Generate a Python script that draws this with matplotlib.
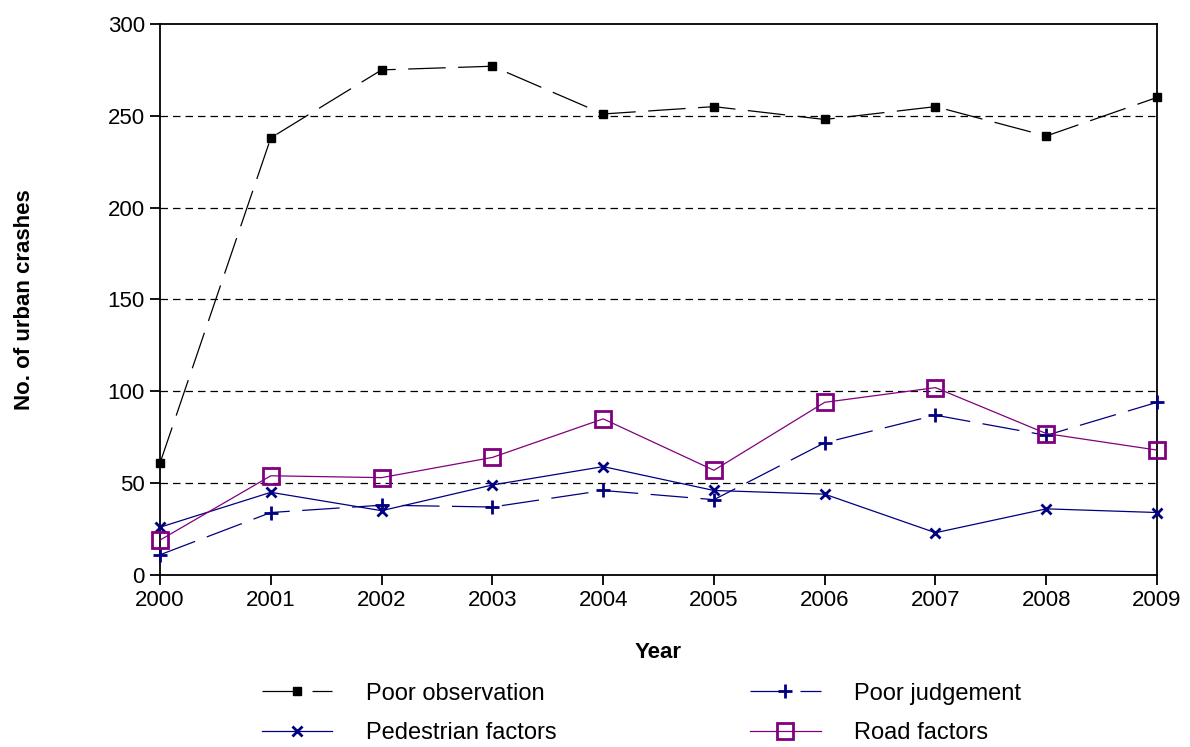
import numpy as np
import matplotlib
matplotlib.use('Agg')
import matplotlib.pyplot as plt

plt.rcParams['font.family'] = ['Liberation Sans', 'DejaVu Sans']

# ── DATA ────────────────────────────────────────────────────────
years = [2000, 2001, 2002, 2003, 2004, 2005, 2006, 2007, 2008, 2009]
poor_observation = [61, 238, 275, 277, 251, 255, 248, 255, 239, 260]
poor_judgement   = [11, 34, 38, 37, 46, 41, 72, 87, 76, 94]
pedestrian       = [26, 45, 35, 49, 59, 46, 44, 23, 36, 34]
road_factors     = [19, 54, 53, 64, 85, 57, 94, 102, 77, 68]
y_ticks = [0, 50, 100, 150, 200, 250, 300]

NAVY = '#000080'
PURPLE = '#800080'

# ── PLOT ────────────────────────────────────────────────────────
fig = plt.figure(figsize=(11.9, 7.47), dpi=100)
ax = fig.add_axes([0.1345, 0.2303, 0.8378, 0.7376])

l1, = ax.plot(years, poor_observation, color='black', lw=0.9,
              dashes=(30, 10), marker='s', ms=6, mfc='black', mec='black',
              label='Poor observation', clip_on=False, zorder=4)
l2, = ax.plot(years, poor_judgement, color=NAVY, lw=0.9,
              dashes=(30, 10), marker='+', ms=10, mew=2,
              label='Poor judgement', clip_on=False, zorder=4)
l3, = ax.plot(years, pedestrian, color=NAVY, lw=0.9,
              marker='x', ms=7, mew=2,
              label='Pedestrian factors', clip_on=False, zorder=4)
l4, = ax.plot(years, road_factors, color=PURPLE, lw=0.9,
              marker='s', ms=11, mfc='none', mec=PURPLE, mew=2,
              label='Road factors', clip_on=False, zorder=5)

ax.set_xlim(2000, 2009)
ax.set_ylim(0, 300)
ax.set_xticks(years)
ax.set_yticks(y_ticks)
for y in y_ticks[1:-1]:
    ax.axhline(y, color='black', lw=0.9, dashes=(6, 4), zorder=1)

for spine in ax.spines.values():
    spine.set_linewidth(1.3)
    spine.set_color('black')
ax.tick_params(direction='out', length=7, width=1.3, labelsize=16, pad=4)

ax.set_xlabel('Year', fontsize=16, fontweight='bold', labelpad=22)
ax.set_ylabel('No. of urban crashes', fontsize=16, fontweight='bold', labelpad=52)

fig.legend(handles=[l1, l3, l2, l4], ncol=2, loc='lower left',
           bbox_to_anchor=(0.202, -0.025), frameon=False, fontsize=17,
           handlelength=3.0, handletextpad=1.4, columnspacing=8.2,
           labelspacing=0.75)

plt.savefig('out.png', dpi=100)
plt.close()
